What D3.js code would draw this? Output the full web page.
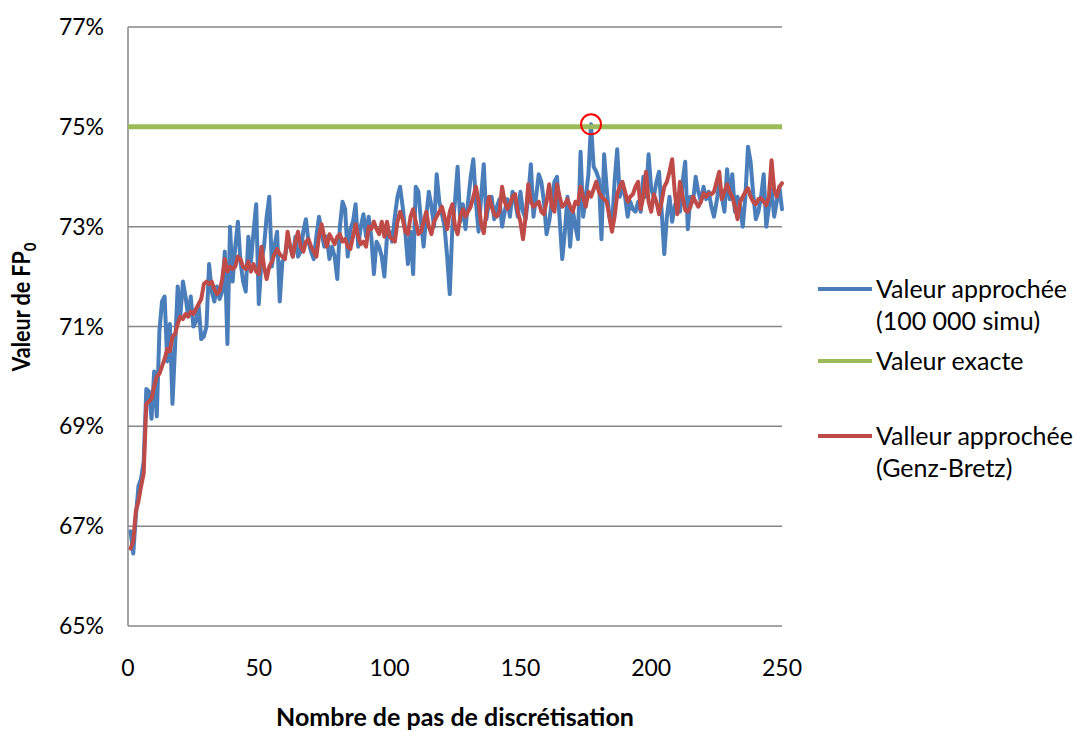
<!DOCTYPE html>
<html>
<head>
<meta charset="utf-8">
<script src="https://cdn.jsdelivr.net/npm/d3@7"></script>
<style>
  html, body { margin: 0; padding: 0; background: #fff; }
  svg { display: block; }
  text { font-family: Lato, "Open Sans", sans-serif; fill: #000; }
</style>
</head>
<body>
<svg id="chart" width="1077" height="731"></svg>
<script>
// Monte Carlo estimate of FP0 (100 000 simulations), in %, for steps 1..250
const simuValues = [
  66.9, 66.45, 67.2, 67.8, 67.95, 68.3, 69.75, 69.7, 69.15, 70.1,
  69.2, 70.9, 71.5, 71.6, 70.3, 71.05, 69.45, 70.6, 71.8, 71.2,
  71.9, 71.6, 71.2, 71.6, 71.0, 71.1, 71.4, 70.75, 70.8, 71.0,
  72.25, 71.7, 71.5, 71.8, 71.55, 71.7, 72.5, 70.65, 73.0, 71.9,
  72.6, 73.1, 72.3, 71.9, 71.7, 72.8, 72.3, 72.9, 73.45, 71.45,
  72.3, 72.6, 73.2, 73.6, 72.2, 72.6, 72.9, 71.5, 72.3, 72.4,
  72.75, 72.6, 72.4, 72.8, 72.4, 72.5, 72.9, 73.15, 72.7, 72.5,
  72.35, 72.8, 73.2, 72.9, 72.6, 72.8, 72.35, 72.6, 72.4, 71.95,
  73.0, 73.5, 73.35, 72.4, 72.95, 73.1, 73.45, 72.6, 73.0, 73.25,
  72.8, 73.2, 72.8, 72.05, 72.7, 72.6, 72.4, 72.0, 72.8, 72.9,
  72.7, 73.2, 73.6, 73.8, 73.4, 72.9, 72.25, 72.9, 72.05, 73.8,
  73.7, 73.1, 72.6, 73.2, 73.7, 73.4, 73.0, 74.05, 73.5, 73.25,
  73.0, 72.4, 71.65, 73.0, 73.5, 74.2, 73.1, 73.45, 72.95, 73.5,
  74.0, 74.35, 73.5, 72.9, 73.6, 74.25, 73.15, 73.5, 73.6, 73.15,
  73.4, 73.55, 73.0, 73.3, 73.55, 73.2, 73.7, 73.5, 73.2, 73.7,
  73.3, 73.15, 73.6, 74.25, 73.2, 73.6, 74.05, 73.9, 73.5, 72.85,
  73.1, 73.5, 73.9, 74.0, 73.15, 72.35, 72.9, 73.6, 72.6, 73.35,
  73.0, 72.75, 74.5, 73.2, 73.6, 74.05, 75.05, 74.2, 74.1, 73.95,
  72.75, 74.45, 73.75, 73.2, 73.0, 73.9, 74.55, 73.6, 73.85, 73.6,
  73.2, 73.5, 73.35, 73.3, 73.5, 73.3, 74.0, 73.6, 74.45, 73.75,
  73.6, 73.9, 74.1, 73.3, 72.45, 73.2, 73.6, 73.1, 73.4, 73.6,
  73.3, 73.9, 74.3, 72.95, 73.6, 73.5, 74.0, 73.7, 73.5, 73.8,
  73.55, 73.7, 73.4, 73.2, 73.5, 73.85, 73.6, 73.3, 74.15, 73.55,
  74.05, 73.3, 73.6, 73.4, 73.0, 73.6, 74.6, 74.3, 73.65, 73.15,
  73.3, 73.6, 74.05, 73.0, 73.4, 73.75, 73.2, 73.5, 73.8, 73.35
];

// Genz-Bretz estimate of FP0, in %, for steps 1..250
const genzValues = [
  66.55, 66.7, 67.3, 67.5, 67.8, 68.06, 69.45, 69.5, 69.55, 69.8,
  70.0, 70.05, 70.2, 70.35, 70.55, 70.5, 70.8, 70.85, 71.05, 71.2,
  71.15, 71.25, 71.2, 71.3, 71.25, 71.35, 71.45, 71.55, 71.85, 71.9,
  71.85, 71.9, 71.75, 71.65, 71.7, 71.95, 72.35, 72.1, 72.2, 72.15,
  72.2, 72.4, 72.35, 72.2, 72.15, 72.3, 72.1, 72.25, 72.1, 72.05,
  72.6, 72.2, 71.95, 72.2, 72.3, 72.45, 72.55, 72.45, 72.4, 72.35,
  72.9, 72.6, 72.4, 72.7, 72.9, 72.6, 72.5, 72.7, 72.75, 72.6,
  72.5, 72.4, 72.8, 73.05, 72.8, 72.6, 72.85, 72.75, 72.65, 72.8,
  72.85, 72.7, 72.75, 72.6, 72.55, 72.8, 73.05, 72.8, 72.65, 72.7,
  72.6, 73.0, 72.95, 73.1, 72.95, 72.85, 73.1, 72.8, 73.1, 72.8,
  72.75, 72.7, 73.1, 73.3, 73.15, 72.9, 72.85, 73.2, 73.35, 73.1,
  72.85, 72.9, 73.1, 73.3, 73.0, 72.85, 73.1, 73.2, 73.3, 73.4,
  73.2, 72.95, 73.3, 73.45, 73.0, 72.85, 73.2, 73.35, 73.2, 73.3,
  73.4, 73.6, 73.8, 73.5, 73.05, 72.87, 73.3, 73.6, 73.4, 73.25,
  73.2, 73.3, 73.8, 73.5, 73.35, 73.45, 73.6, 73.65, 73.3, 73.1,
  72.75, 73.2, 73.85, 73.5, 73.4, 73.45, 73.5, 73.3, 73.25, 73.5,
  73.85, 73.4, 73.3, 73.85, 73.6, 73.4, 73.45, 73.55, 73.4, 73.3,
  73.5, 73.45, 73.8, 73.6, 73.4, 73.7, 73.6, 73.75, 73.9, 73.7,
  73.6, 73.55, 73.5, 73.2, 72.9, 73.2, 73.65, 73.8, 73.9, 73.7,
  73.5, 73.6, 73.65, 73.8, 73.9, 73.35, 73.6, 74.1, 73.5, 73.3,
  73.65, 73.5, 73.25, 73.5, 73.8, 73.9, 74.1, 74.35, 73.7, 73.25,
  73.9, 73.6, 73.33, 73.3, 73.4, 73.6, 73.5, 73.4, 73.5, 73.67,
  73.6, 73.67, 73.65, 73.7, 73.9, 74.1, 73.55, 73.7, 73.85, 73.7,
  73.6, 73.4, 73.15, 73.5, 73.6, 73.7, 73.77, 73.6, 73.5, 73.45,
  73.55, 73.57, 73.5, 73.43, 73.6, 74.33, 73.75, 73.6, 73.8, 73.87
];

// Exact value of FP0, in %, constant over the whole range
const exactValue = 75;

const xTicks = [0, 50, 100, 150, 200, 250];
const yTicks = [65, 67, 69, 71, 73, 75, 77];

// Step at which the highlighted simulated point sits
const highlightStep = 177;

const legendItems = [
  { lines: ["Valeur approchée", "(100 000 simu)"], color: "#4A7EBB" },
  { lines: ["Valeur exacte"], color: "#9BBB59" },
  { lines: ["Valleur approchée", "(Genz-Bretz)"], color: "#BE4B48" }
];

const svg = d3.select("#chart");
const margin = { left: 128, right: 295, top: 27, bottom: 105 };
const width = 1077, height = 731;

const x = d3.scaleLinear().domain([0, 250]).range([margin.left, width - margin.right]);
const y = d3.scaleLinear().domain([65, 77]).range([height - margin.bottom, margin.top]);

// Horizontal gridlines
svg.append("g")
  .selectAll("line")
  .data(yTicks)
  .join("line")
  .attr("x1", x(0)).attr("x2", x(250))
  .attr("y1", d => y(d)).attr("y2", d => y(d))
  .attr("stroke", "#868686").attr("stroke-width", 1.5);

// Left axis line
svg.append("line")
  .attr("x1", x(0)).attr("x2", x(0))
  .attr("y1", y(77)).attr("y2", y(65))
  .attr("stroke", "#868686").attr("stroke-width", 1.5);

// Y tick labels
svg.append("g")
  .selectAll("text")
  .data(yTicks)
  .join("text")
  .attr("x", 104)
  .attr("y", d => y(d))
  .attr("dy", "0.35em")
  .attr("text-anchor", "end")
  .style("font-size", "23px")
  .text(d => d + "%");

// X tick labels
svg.append("g")
  .selectAll("text")
  .data(xTicks)
  .join("text")
  .attr("x", d => x(d))
  .attr("y", 668)
  .attr("dy", "0.35em")
  .attr("text-anchor", "middle")
  .style("font-size", "23px")
  .text(d => d);

// Axis titles
svg.append("text")
  .attr("x", 455).attr("y", 726)
  .attr("text-anchor", "middle")
  .style("font-size", "25px").style("font-weight", "bold")
  .text("Nombre de pas de discrétisation");

const yTitle = svg.append("text")
  .attr("transform", "translate(30,307) rotate(-90) scale(1,1.15)")
  .attr("text-anchor", "middle")
  .style("font-size", "21.5px").style("font-weight", "bold");
yTitle.append("tspan").text("Valeur de FP");
yTitle.append("tspan").attr("dy", "5").style("font-size", "15px").text("0");

const line = d3.line()
  .x((d, i) => x(i + 1))
  .y(d => y(d));

// Simulated series
svg.append("path")
  .datum(simuValues)
  .attr("d", line)
  .attr("fill", "none")
  .attr("stroke", "#4A7EBB").attr("stroke-width", 4)
  .attr("stroke-linejoin", "round").attr("stroke-linecap", "round");

// Exact value
svg.append("line")
  .attr("x1", x(0)).attr("x2", x(250))
  .attr("y1", y(exactValue)).attr("y2", y(exactValue))
  .attr("stroke", "#9BBB59").attr("stroke-width", 5);

// Genz-Bretz series
svg.append("path")
  .datum(genzValues)
  .attr("d", line)
  .attr("fill", "none")
  .attr("stroke", "#BE4B48").attr("stroke-width", 4)
  .attr("stroke-linejoin", "round").attr("stroke-linecap", "round");

// Highlight circle on the simulated point that reaches the exact value
svg.append("circle")
  .attr("cx", x(highlightStep))
  .attr("cy", y(simuValues[highlightStep - 1]))
  .attr("r", 10)
  .attr("fill", "none")
  .attr("stroke", "#FF0000").attr("stroke-width", 2);

// Legend
const legendY = [289, 361, 436];
const legend = svg.append("g");
legendItems.forEach((item, k) => {
  const g = legend.append("g").attr("transform", `translate(0,${legendY[k]})`);
  g.append("line")
    .attr("x1", 818).attr("x2", 872)
    .attr("y1", 0).attr("y2", 0)
    .attr("stroke", item.color).attr("stroke-width", 4);
  item.lines.forEach((t, j) => {
    g.append("text")
      .attr("x", 876).attr("y", j * 32)
      .attr("dy", "0.35em")
      .style("font-size", "25px")
      .text(t);
  });
});
</script>
</body>
</html>
